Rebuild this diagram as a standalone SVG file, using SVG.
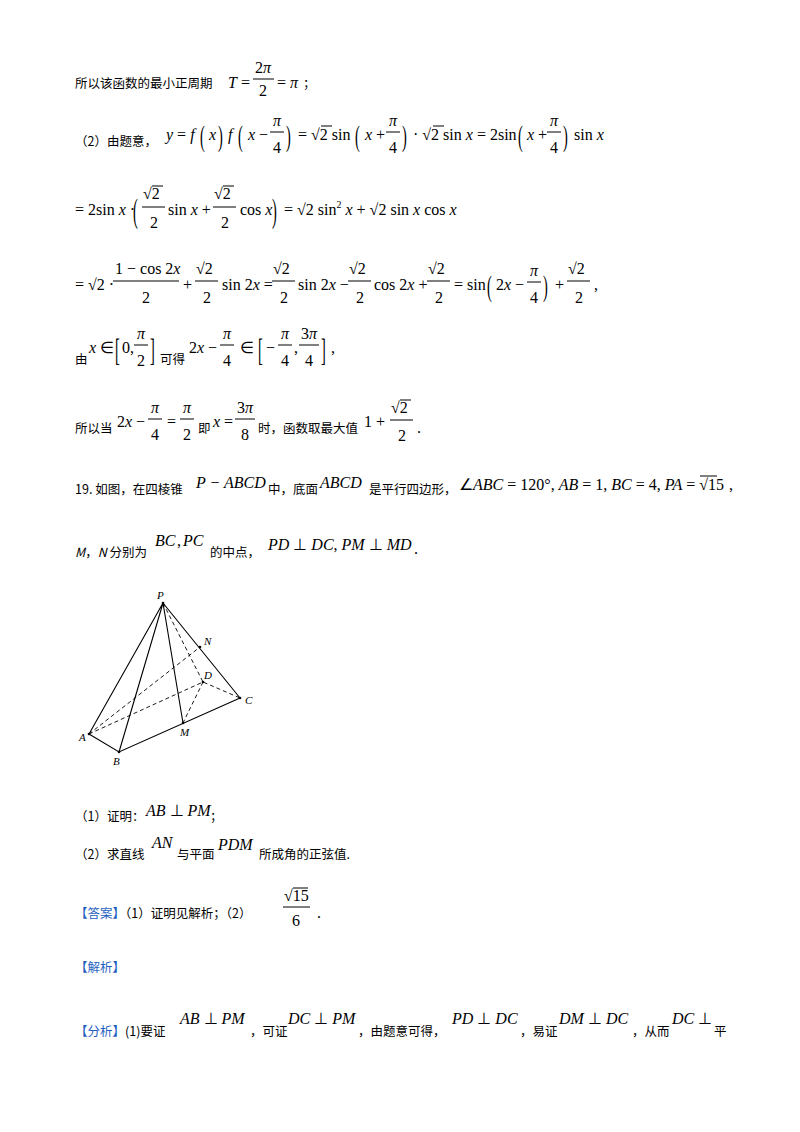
<svg xmlns="http://www.w3.org/2000/svg" width="800" height="1132" viewBox="0 0 800 1132">
<style>
.c{font-family:"Noto Sans CJK SC","Noto Sans",sans-serif;font-size:12.5px;fill:#000}
.m{font-family:"Liberation Serif",serif;font-size:16px;fill:#000}
.i{font-style:italic}
.b{fill:#1f5fbf}
.bar{stroke:#000;stroke-width:1}
.sl{stroke:#000;stroke-width:1.1;fill:none}
.dl{stroke:#000;stroke-width:0.9;fill:none;stroke-dasharray:4 3}
.lb{font-family:"Liberation Serif",serif;font-style:italic;font-size:11px}
.p{font-family:"Liberation Serif",serif;font-size:18px;fill:#000}
</style>
<rect width="800" height="1132" fill="#fff"/>
<!-- line 1 -->
<text class="c" x="75" y="88">所以该函数的最小正周期</text>
<text class="m" x="228" y="88"><tspan class="i">T</tspan> =</text>
<text class="m" x="255" y="73">2<tspan class="i">π</tspan></text><line class="bar" x1="253" y1="79" x2="274" y2="79"/><text class="m" x="259" y="96">2</text>
<text class="m" x="277" y="88">= <tspan class="i">π</tspan></text><text class="c" x="303" y="88">；</text>
<!-- line 2 -->
<text class="c" x="75" y="146">（2）由题意，</text>
<text class="m" x="166" y="140"><tspan class="i">y</tspan> = <tspan class="i">f</tspan></text>
<text class="p" transform="translate(200,146) scale(0.8,1.6)">(</text><text class="m i" x="209" y="140">x</text><text class="p" transform="translate(218,146) scale(0.8,1.6)">)</text>
<text class="m i" x="228" y="140">f</text><text class="p" transform="translate(238,146) scale(0.8,1.6)">(</text><text class="m" x="248" y="140"><tspan class="i">x</tspan> −</text>
<text class="m i" x="273" y="126">π</text><line class="bar" x1="270" y1="132" x2="284" y2="132"/><text class="m" x="273" y="153">4</text>
<text class="p" transform="translate(286,146) scale(0.8,1.6)">)</text>
<text class="m" x="298" y="140">= √2 sin</text><line class="bar" x1="321" y1="126" x2="332" y2="126"/>
<text class="p" transform="translate(355,146) scale(0.8,1.6)">(</text><text class="m" x="365" y="140"><tspan class="i">x</tspan> +</text>
<text class="m i" x="389" y="126">π</text><line class="bar" x1="386" y1="132" x2="400" y2="132"/><text class="m" x="389" y="153">4</text>
<text class="p" transform="translate(402,146) scale(0.8,1.6)">)</text>
<text class="m" x="413" y="140">· √2 sin <tspan class="i">x</tspan> = 2sin</text><line class="bar" x1="433" y1="126" x2="444" y2="126"/>
<text class="p" transform="translate(518,146) scale(0.8,1.6)">(</text><text class="m" x="527" y="140"><tspan class="i">x</tspan> +</text>
<text class="m i" x="550" y="126">π</text><line class="bar" x1="547" y1="132" x2="561" y2="132"/><text class="m" x="550" y="153">4</text>
<text class="p" transform="translate(563,146) scale(0.8,1.6)">)</text><text class="m" x="574" y="140">sin <tspan class="i">x</tspan></text>
<!-- line 3 -->
<text class="m" x="75" y="215">= 2sin <tspan class="i">x</tspan> ·</text>
<text class="p" transform="translate(133,222) scale(0.8,1.9)">(</text>
<text class="m" x="143" y="199">√2</text><line class="bar" x1="152" y1="186" x2="163" y2="186"/><line class="bar" x1="142" y1="207" x2="165" y2="207"/><text class="m" x="150" y="228">2</text>
<text class="m" x="168" y="215">sin <tspan class="i">x</tspan> +</text>
<text class="m" x="214" y="199">√2</text><line class="bar" x1="223" y1="186" x2="234" y2="186"/><line class="bar" x1="213" y1="207" x2="236" y2="207"/><text class="m" x="221" y="228">2</text>
<text class="m" x="240" y="215">cos <tspan class="i">x</tspan></text><text class="p" transform="translate(272,222) scale(0.8,1.9)">)</text>
<text class="m" x="284" y="215">= √2 sin<tspan font-size="10" dy="-7">2</tspan><tspan dy="7"> </tspan><tspan class="i">x</tspan> + √2 sin <tspan class="i">x</tspan> cos <tspan class="i">x</tspan></text>
<!-- line 4 -->
<text class="m" x="75" y="290">= √2 ·</text>
<text class="m" x="115" y="274">1 − cos 2<tspan class="i">x</tspan></text><line class="bar" x1="113" y1="281" x2="179" y2="281"/><text class="m" x="142" y="303">2</text>
<text class="m" x="183" y="290">+</text>
<text class="m" x="196" y="274">√2</text><line class="bar" x1="195" y1="281" x2="218" y2="281"/><text class="m" x="203" y="303">2</text>
<text class="m" x="222" y="290">sin 2<tspan class="i">x</tspan> =</text>
<text class="m" x="273" y="274">√2</text><line class="bar" x1="272" y1="281" x2="295" y2="281"/><text class="m" x="280" y="303">2</text>
<text class="m" x="298" y="290">sin 2<tspan class="i">x</tspan> −</text>
<text class="m" x="349" y="274">√2</text><line class="bar" x1="348" y1="281" x2="371" y2="281"/><text class="m" x="356" y="303">2</text>
<text class="m" x="374" y="290">cos 2<tspan class="i">x</tspan> +</text>
<text class="m" x="428" y="274">√2</text><line class="bar" x1="427" y1="281" x2="450" y2="281"/><text class="m" x="435" y="303">2</text>
<text class="m" x="454" y="290">= sin</text>
<text class="p" transform="translate(487,296) scale(0.8,1.6)">(</text><text class="m" x="496" y="290">2<tspan class="i">x</tspan> −</text>
<text class="m i" x="530" y="276">π</text><line class="bar" x1="527" y1="282" x2="541" y2="282"/><text class="m" x="530" y="303">4</text>
<text class="p" transform="translate(543,296) scale(0.8,1.6)">)</text><text class="m" x="555" y="290">+</text>
<text class="m" x="568" y="274">√2</text><line class="bar" x1="567" y1="281" x2="590" y2="281"/><text class="m" x="575" y="303">2</text>
<text class="m" x="594" y="290">,</text>
<!-- line 5 -->
<text class="c" x="75" y="364">由</text>
<text class="m" x="89" y="353"><tspan class="i">x</tspan> ∈</text>
<text class="p" transform="translate(115,361) scale(0.8,1.7)">[</text><text class="m" x="122" y="353">0,</text>
<text class="m i" x="137" y="339">π</text><line class="bar" x1="134" y1="345" x2="148" y2="345"/><text class="m" x="137" y="366">2</text>
<text class="p" transform="translate(150,361) scale(0.8,1.7)">]</text>
<text class="c" x="160" y="364">可得</text>
<text class="m" x="189" y="353">2<tspan class="i">x</tspan> −</text>
<text class="m i" x="223" y="339">π</text><line class="bar" x1="220" y1="345" x2="234" y2="345"/><text class="m" x="223" y="366">4</text>
<text class="m" x="240" y="353">∈</text>
<text class="p" transform="translate(258,361) scale(0.8,1.7)">[</text><text class="m" x="266" y="353">−</text>
<text class="m i" x="281" y="339">π</text><line class="bar" x1="278" y1="345" x2="292" y2="345"/><text class="m" x="281" y="366">4</text>
<text class="m" x="294" y="353">,</text>
<text class="m" x="301" y="339">3<tspan class="i">π</tspan></text><line class="bar" x1="299" y1="345" x2="319" y2="345"/><text class="m" x="305" y="366">4</text>
<text class="p" transform="translate(321,361) scale(0.8,1.7)">]</text><text class="m" x="331" y="353">,</text>
<!-- line 6 -->
<text class="c" x="75" y="433">所以当</text>
<text class="m" x="117" y="427">2<tspan class="i">x</tspan> −</text>
<text class="m i" x="151" y="413">π</text><line class="bar" x1="148" y1="419" x2="162" y2="419"/><text class="m" x="151" y="440">4</text>
<text class="m" x="167" y="427">=</text>
<text class="m i" x="183" y="413">π</text><line class="bar" x1="180" y1="419" x2="194" y2="419"/><text class="m" x="183" y="440">2</text>
<text class="c" x="198" y="433">即</text>
<text class="m" x="213" y="427"><tspan class="i">x</tspan> =</text>
<text class="m" x="237" y="413">3<tspan class="i">π</tspan></text><line class="bar" x1="235" y1="419" x2="255" y2="419"/><text class="m" x="241" y="440">8</text>
<text class="c" x="258" y="433">时，函数取最大值</text>
<text class="m" x="364" y="427">1 +</text>
<text class="m" x="391" y="413">√2</text><line class="bar" x1="400" y1="400" x2="411" y2="400"/><line class="bar" x1="390" y1="420" x2="413" y2="420"/><text class="m" x="398" y="441">2</text>
<text class="m" x="417" y="433">.</text>
<!-- line 7 -->
<text class="c" x="75" y="494">19. 如图，在四棱锥</text>
<text class="m i" x="196" y="488">P − ABCD</text>
<text class="c" x="268" y="494">中，底面</text>
<text class="m i" x="320" y="488">ABCD</text>
<text class="c" x="369" y="494">是平行四边形，</text>
<text class="m" x="459" y="490">∠<tspan class="i">ABC</tspan> = 120°, <tspan class="i">AB</tspan> = 1, <tspan class="i">BC</tspan> = 4, <tspan class="i">PA</tspan> = √15</text>
<line class="bar" x1="700" y1="476" x2="717" y2="476"/>
<text class="m" x="729" y="490">,</text>
<!-- line 8 -->
<text class="c" x="75" y="557"><tspan font-style="italic">M</tspan>，<tspan font-style="italic">N</tspan> 分别为</text>
<text class="m i" x="155" y="546">BC</text><text class="m" x="177" y="546">,</text><text class="m i" x="183" y="546">PC</text>
<text class="c" x="210" y="557">的中点，</text>
<text class="m" x="268" y="550"><tspan class="i">PD</tspan> ⊥ <tspan class="i">DC</tspan>, <tspan class="i">PM</tspan> ⊥ <tspan class="i">MD</tspan></text>
<text class="m" x="414" y="554">.</text>
<!-- figure -->
<g id="connectors">
<path class="sl" d="M163 603 L89 734 M163 603 L119 752 M163 603 L183 723 M163 603 L240 698 M89 734 L119 752 L240 698"/>
<path class="dl" d="M163 603 L203 682 M89 734 L200 647 M89 734 L203 682 L240 698 M203 682 L183 723"/>
</g>
<g id="P"><circle cx="163" cy="603" r="1.3"/><text class="lb" x="157" y="599">P</text></g>
<g id="N"><circle cx="200" cy="647" r="1.3"/><text class="lb" x="204" y="645">N</text></g>
<g id="D"><circle cx="203" cy="682" r="1.3"/><text class="lb" x="204" y="679">D</text></g>
<g id="C"><circle cx="240" cy="698" r="1.3"/><text class="lb" x="245" y="704">C</text></g>
<g id="M"><circle cx="183" cy="723" r="1.3"/><text class="lb" x="180" y="736">M</text></g>
<g id="A"><circle cx="89" cy="734" r="1.3"/><text class="lb" x="79" y="741">A</text></g>
<g id="B"><circle cx="119" cy="752" r="1.3"/><text class="lb" x="113" y="765">B</text></g>
<!-- questions -->
<text class="c" x="75" y="821">（1）证明：</text>
<text class="m i" x="146" y="816">AB <tspan font-style="normal">⊥</tspan> PM</text><text class="c" x="210" y="821">；</text>
<text class="c" x="75" y="859">（2）求直线</text>
<text class="m i" x="152" y="848">AN</text>
<text class="c" x="177" y="859">与平面</text>
<text class="m i" x="218" y="850" font-size="14">PDM</text>
<text class="c" x="259" y="859">所成角的正弦值.</text>
<text class="c" x="75" y="918"><tspan class="b">【答案】</tspan>（1）证明见解析；（2）</text>
<text class="m" x="284" y="901">√15</text><line class="bar" x1="293" y1="888" x2="308" y2="888"/><line class="bar" x1="283" y1="907" x2="310" y2="907"/><text class="m" x="292" y="926">6</text>
<text class="m" x="317" y="918">.</text>
<text class="c b" x="75" y="972">【解析】</text>
<text class="c" x="75" y="1036"><tspan class="b">【分析】</tspan>(1)要证</text>
<text class="m i" x="180" y="1024">AB <tspan font-style="normal">⊥</tspan> PM</text>
<text class="c" x="250" y="1036">，可证</text>
<text class="m i" x="288" y="1024">DC <tspan font-style="normal">⊥</tspan> PM</text>
<text class="c" x="358" y="1036">，由题意可得，</text>
<text class="m i" x="452" y="1024">PD <tspan font-style="normal">⊥</tspan> DC</text>
<text class="c" x="520" y="1036">，易证</text>
<text class="m i" x="559" y="1024">DM <tspan font-style="normal">⊥</tspan> DC</text>
<text class="c" x="632" y="1036">，从而</text>
<text class="m i" x="672" y="1024">DC <tspan font-style="normal">⊥</tspan></text>
<text class="c" x="714" y="1036">平</text>
</svg>
